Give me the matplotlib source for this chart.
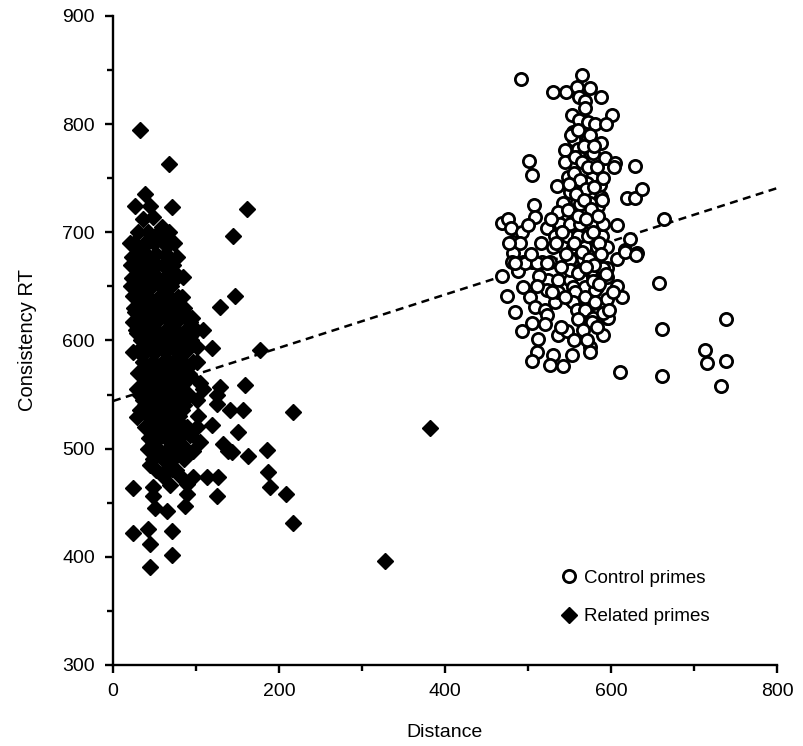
"""
Consistency RT vs distance scatter, control vs related primes
"""

import numpy as np
import matplotlib.pyplot as plt

plt.rcParams['font.family'] = ['Liberation Sans', 'DejaVu Sans']

# related primes (distance, RT)
related_pts = [
    (33, 795), (68, 763), (39, 735), (27, 724), (45, 724), (71, 723), (161, 722),
    (36, 712), (48, 714), (59, 705), (145, 697), (48, 696), (41, 691), (21, 690),
    (36, 686), (65, 687), (23, 677), (77, 677), (53, 670), (66, 677), (33, 675),
    (84, 659), (23, 658), (36, 664), (53, 656), (65, 652), (33, 650), (83, 640),
    (60, 641), (147, 641), (129, 631), (24, 641), (36, 635), (48, 629), (89, 624),
    (27, 626), (65, 622), (95, 621), (24, 617), (48, 617), (69, 617), (93, 617),
    (108, 610), (29, 607), (48, 604), (77, 604), (93, 604), (24, 589), (45, 592),
    (60, 592), (81, 594), (101, 594), (119, 593), (177, 591), (48, 580), (65, 582),
    (81, 580), (101, 580), (36, 570), (57, 570), (72, 569), (93, 567), (45, 561),
    (65, 561), (105, 561), (29, 555), (48, 553), (69, 553), (108, 555), (129, 557),
    (159, 559), (36, 545), (57, 545), (77, 547), (101, 545), (125, 550), (125, 541),
    (33, 536), (53, 538), (83, 536), (141, 536), (157, 536), (217, 534), (29, 529),
    (48, 527), (69, 529), (102, 530), (119, 522), (45, 518), (63, 518), (89, 520),
    (101, 520), (53, 511), (72, 511), (93, 513), (151, 515), (48, 504), (69, 506),
    (84, 502), (105, 506), (133, 504), (185, 499), (57, 497), (77, 497), (96, 498),
    (139, 498), (143, 497), (65, 492), (83, 493), (163, 493), (45, 485), (71, 481),
    (187, 478), (60, 475), (81, 475), (96, 474), (113, 474), (126, 474), (24, 464),
    (48, 465), (69, 466), (89, 467), (189, 465), (209, 458), (217, 431), (125, 456),
    (48, 456), (89, 458), (51, 445), (65, 442), (87, 447), (24, 422), (42, 426),
    (45, 412), (71, 424), (71, 402), (45, 391), (382, 519), (328, 396),
    # dense core
    (30, 700), (42, 700), (55, 700), (68, 700),
    (25, 690), (38, 690), (50, 690), (62, 690), (74, 690),
    (28, 680), (40, 680), (52, 680), (64, 680),
    (22, 670), (35, 670), (47, 670), (60, 670), (72, 670),
    (27, 660), (40, 660), (52, 660), (65, 660), (78, 660),
    (22, 650), (35, 650), (47, 650), (58, 650), (70, 650),
    (30, 640), (42, 640), (55, 640), (68, 640), (78, 640),
    (25, 630), (38, 630), (50, 630), (62, 630), (74, 630), (85, 630),
    (32, 620), (44, 620), (56, 620), (68, 620), (80, 620),
    (28, 610), (40, 610), (52, 610), (64, 610), (76, 610), (88, 610), (100, 610),
    (34, 600), (46, 600), (58, 600), (70, 600), (82, 600), (94, 600),
    (30, 590), (40, 590), (52, 590), (64, 590), (76, 590), (88, 590),
    (36, 580), (48, 580), (60, 580), (72, 580), (84, 580), (96, 580),
    (30, 570), (42, 570), (54, 570), (66, 570), (78, 570), (90, 570),
    (36, 560), (48, 560), (60, 560), (72, 560), (84, 560),
    (32, 550), (44, 550), (56, 550), (68, 550), (80, 550), (92, 550),
    (38, 540), (50, 540), (62, 540), (74, 540), (86, 540),
    (42, 530), (55, 530), (67, 530), (79, 530),
    (38, 520), (50, 520), (62, 520), (74, 520), (86, 520),
    (44, 510), (56, 510), (68, 510), (80, 510),
    (42, 500), (54, 500), (66, 500), (78, 500),
    (48, 490), (60, 490), (72, 490), (86, 490),
    (52, 480), (64, 480), (76, 480),
]

# control primes (distance, RT)
control_pts = [
    (492, 842), (565, 845), (530, 830), (546, 830), (559, 834), (575, 833),
    (588, 825), (562, 825), (569, 821), (569, 815), (553, 808), (601, 808),
    (562, 804), (572, 802), (581, 800), (594, 800), (554, 793), (572, 787),
    (588, 783), (556, 785), (545, 776), (560, 777), (578, 773), (562, 770),
    (593, 769), (605, 764), (604, 760), (629, 761), (545, 765), (501, 766),
    (505, 753), (548, 751), (566, 758), (577, 750), (535, 743), (557, 742),
    (571, 746), (587, 744), (619, 732), (629, 732), (551, 737), (565, 737),
    (578, 737), (588, 733), (542, 727), (559, 728), (572, 727), (584, 724),
    (507, 725), (536, 719), (469, 709), (476, 712), (479, 704), (493, 700),
    (508, 714), (607, 707), (623, 694), (631, 681), (637, 740), (664, 712),
    (500, 707), (523, 704), (548, 721), (563, 726), (575, 727), (589, 730),
    (617, 684), (607, 675), (482, 691), (482, 681), (481, 673), (494, 673),
    (505, 673), (517, 673), (527, 673), (469, 660), (488, 664), (494, 649),
    (502, 640), (508, 631), (475, 641), (484, 626), (505, 616), (493, 609),
    (512, 601), (511, 589), (505, 581), (530, 587), (527, 577), (542, 576),
    (553, 587), (536, 605), (547, 609), (575, 594), (575, 589), (590, 605),
    (611, 571), (520, 628), (523, 624), (532, 636), (551, 638), (559, 630),
    (569, 631), (578, 635), (595, 638), (577, 621), (595, 621), (607, 650),
    (613, 640), (524, 656), (536, 656), (523, 647), (551, 656), (565, 656),
    (554, 649), (569, 649), (583, 649), (595, 659), (595, 667), (578, 659),
    (551, 675), (566, 675), (581, 675), (530, 686), (542, 686), (554, 686),
    (569, 686), (583, 686), (595, 686), (532, 697), (547, 697), (560, 697),
    (572, 697), (589, 697), (539, 708), (551, 708), (563, 708), (577, 708),
    (590, 708), (551, 665), (563, 665), (577, 665), (589, 665), (658, 653),
    (661, 611), (661, 567), (713, 591), (716, 579), (738, 581), (738, 620),
    (732, 558), (536, 645), (557, 645), (554, 636), (559, 628), (569, 640),
    (569, 628), (581, 647), (581, 636), (578, 621), (577, 617), (596, 621),
    (590, 667), (594, 661), (617, 682), (630, 679), (496, 672), (511, 672),
    (523, 672),
    # dense core
    (552, 790), (560, 795), (567, 780), (575, 790), (580, 780), (557, 770),
    (565, 765), (572, 760), (583, 760), (555, 755), (563, 748), (570, 740),
    (580, 742), (590, 750), (550, 745), (558, 735), (568, 730), (576, 722),
    (584, 715), (560, 715), (570, 712), (578, 700), (585, 690), (555, 690),
    (565, 682), (573, 675), (580, 670), (588, 680), (560, 662), (570, 668),
    (578, 655), (586, 652), (545, 640), (560, 620), (566, 610), (571, 600),
    (583, 612), (590, 625), (598, 628), (603, 645), (540, 668), (546, 680),
    (534, 690), (541, 700), (528, 712), (516, 690), (504, 680), (490, 690),
    (477, 690), (484, 672), (513, 660), (529, 645), (511, 650), (520, 615),
    (540, 612), (555, 600),
]

# dashed regression line
fit_intercept = 544.0
fit_slope = 0.246

rel = np.array(related_pts, dtype=float)
ctl = np.array(control_pts, dtype=float)

fig = plt.figure(figsize=(8.04, 7.46), dpi=100)
ax = fig.add_axes([0.1405, 0.1086, 0.8259, 0.87])

xs = np.array([0.0, 800.0])
ax.plot(xs, fit_intercept + fit_slope * xs, color='black', lw=1.8,
        ls=(0, (3.2, 2.2)), zorder=2)

ax.plot(ctl[:, 0], ctl[:, 1], 'o', ms=8.8, mfc='white', mec='black',
        mew=2.0, zorder=3, label='Control primes')
ax.plot(rel[:, 0], rel[:, 1], 'D', ms=8.6, mfc='black', mec='black',
        mew=1.0, zorder=4, label='Related primes')

ax.set_xlim(0, 800)
ax.set_ylim(300, 900)
ax.set_xticks(np.arange(0, 801, 200))
ax.set_xticks(np.arange(100, 800, 200), minor=True)
ax.set_yticks(np.arange(300, 901, 100))
ax.set_yticks(np.arange(350, 900, 100), minor=True)

for side in ['top', 'right']:
    ax.spines[side].set_visible(False)
for side in ['left', 'bottom']:
    ax.spines[side].set_linewidth(1.7)
ax.tick_params(which='major', length=6, width=1.7, labelsize=14, pad=7)
ax.tick_params(which='minor', length=4, width=1.7)

ax.set_xlabel('Distance', fontsize=14, labelpad=17)
ax.set_ylabel('Consistency RT', fontsize=14.5, labelpad=18)

ax.legend(loc='lower left', bbox_to_anchor=(0.644, 0.035), frameon=False,
          fontsize=13.5, labelspacing=1.15, handletextpad=0.2,
          handlelength=1.2, numpoints=1)

plt.savefig('out.png', dpi=100)
